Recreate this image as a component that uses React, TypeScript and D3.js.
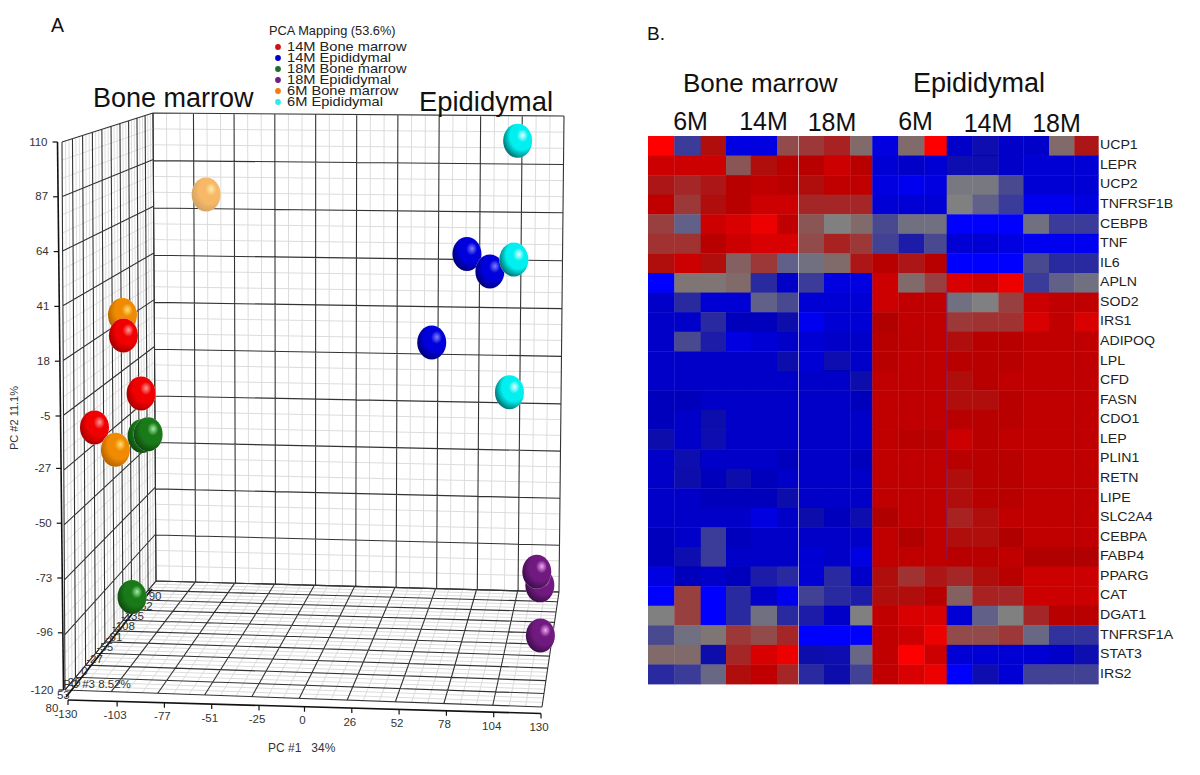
import React from "react";
import * as d3 from "d3";

// ---------- Panel A data ----------
const legendLabels = ["14M Bone marrow", "14M Epididymal", "18M Bone marrow", "18M Epididymal", "6M Bone marrow", "6M Epididymal"];
const legendColors = ["#cc1111", "#0000cc", "#1a6e2a", "#6a1e8a", "#f07d10", "#30e8f0"];
const sphereLight = ["#ff9a9a", "#8080ff", "#a0f0a0", "#f4a8f4", "#ffe070", "#e4ffff"];
const sphereBase = ["#f00000", "#0000dc", "#1a7a1a", "#701a80", "#f08a00", "#00f0f0"];
const sphereDark = ["#8c0000", "#000058", "#0a3c0a", "#2c0838", "#a05800", "#004c4c"];
const sphereGroup = [4, 4, 0, 0, 0, 4, 2, 2, 2, 1, 1, 5, 1, 5, 5, 3, 3, 3];
const spherePc1 = [-91, -116.5, -116, -111, -128, -116, -113, -112, -117, 74, 88, 101, 54, 102, 99, 119, 117, 123];
const spherePc2 = [73, 29, 20, -9, -18, -27.5, -30, -31, -102, 49, 41, 44, 9, 99, -19, -111.5, -105, -119];
const spherePc3 = [-159, -17, -17, -44, 8, 8, -57, -71, -44, -128, -128, -159, -114, -174, -159, -159, -159, -71];
const sphereOpacity = [0.6, 1, 1, 1, 1, 1, 1, 1, 1, 1, 1, 1, 1, 1, 1, 1, 1, 1];
const pc1Ticks = [-130, -103, -77, -51, -25, 0, 26, 52, 78, 104, 130];
const pc2Ticks = [110, 87, 64, 41, 18, -5, -27, -50, -73, -96, -120];
const pc3Ticks = [80, 53, 26, 0, -27, -55, -81, -108, -135, -162, -190];

// ---------- Panel B data ----------
const genes = ["UCP1", "LEPR", "UCP2", "TNFRSF1B", "CEBPB", "TNF", "IL6", "APLN", "SOD2", "IRS1", "ADIPOQ", "LPL", "CFD", "FASN", "CDO1", "LEP", "PLIN1", "RETN", "LIPE", "SLC2A4", "CEBPA", "FABP4", "PPARG", "CAT", "DGAT1", "TNFRSF1A", "STAT3", "IRS2"];
const expression = [
  [10, -4, 6, -9, -9, 2.5, 3.5, 5, 1, -9, 1, 10, -8, -7, -8, -8, 1, 5.5],
  [8.5, 8.5, 8.5, 2, 6, 7.5, 7.5, 8.5, 7.5, -8.5, -8, -8.5, -7, -7, -8, -8.5, -8.5, -8.5],
  [5.5, 4.5, 5.5, 7.5, 8, 7.5, 6, 8, 8, -9, -9.5, -9, -0.5, -0.5, -3, -8.5, -8.5, -8.5],
  [8, 3.5, 6, 7.5, 8.5, 8.5, 4.5, 4.5, 4.5, -8.5, -8.5, -8.5, 0, -2, -4, -9.5, -9.5, -9],
  [3, -2, 8.5, 9, 9.5, 8, 2, 0, 1, -3, -1, -1, -10, -10, -10, -1, -4, -4],
  [4, 4, 7.5, 8.5, 9, 9, 2.5, 5, 3.5, -3.5, -6, -3, -8.5, -8.5, -9, -9.5, -9.5, -9.5],
  [6, 8.5, 6, 1.5, 3.5, -2, -1, 1, 5.5, 7.5, 5.5, 7.5, -10, -10, -10, -3, -5, -5],
  [-10, 0.5, 0.5, 1, -5, -8, -4, -9, -9, 8.5, 1, 3, 9, 8.5, 9.5, -4, -2, -1],
  [-8, -5, -8.5, -8.5, -2, -3, -8.5, -8.5, -8.5, 8.5, 8, 8, -1, 0, 3, 8.5, 8, 8],
  [-8, -8, -5, -7.5, -7.5, -6.5, -9.5, -8.5, -8.5, 7, 8, 8, 3.5, 4, 4, 9, 8, 9],
  [-8, -3, -6, -9, -8.5, -8, -8.5, -8, -8, 7.5, 7.8, 8, 6, 7.5, 7.5, 8, 8, 8],
  [-8, -8, -8, -8, -8, -6.5, -8.5, -7, -8, 7.5, 8, 8, 7.5, 7.5, 7.5, 8, 8, 8],
  [-8, -8, -8, -8, -8, -8, -8, -8, -6.5, 8, 8, 8, 6, 7.5, 8, 8, 8, 8],
  [-7.5, -7.5, -8, -8, -8, -8, -8, -8, -7.5, 8, 8, 8, 6, 6, 7.5, 8, 8, 8],
  [-7.5, -8, -6.5, -8, -8, -8, -8, -8, -8, 8, 8, 8, 7.5, 7.5, 7.5, 8, 8, 8],
  [-6.5, -8, -7, -8, -8, -8, -8, -8, -8, 8, 7.5, 7.5, 8.5, 7.5, 8, 8, 8, 8],
  [-8, -7, -8, -8, -8, -7.5, -8, -8, -7.5, 8, 8, 8, 7.5, 7.5, 7.5, 8, 8, 8],
  [-8, -6.5, -7.5, -6.5, -7.5, -8, -8, -8, -8, 8, 8, 8, 6, 7.5, 7.5, 8, 8, 8],
  [-8, -8, -7.5, -7.5, -7.5, -6.5, -8, -8, -8, 8, 8, 8, 6, 7.5, 7.5, 8, 8, 8],
  [-8, -8, -8, -8, -9, -8, -6.5, -7.5, -7, 7, 8, 8, 5, 6, 8, 8, 8, 8],
  [-7.5, -8, -4, -7.5, -8, -8, -8, -8, -8, 8, 7, 8, 6, 6, 7, 8, 8, 8],
  [-7.5, -7, -4, -8, -8, -8, -8.5, -8, -9, 8, 8, 8, 7.5, 7.5, 8, 7, 7, 7],
  [-9, -7.5, -8, -7.5, -6, -5, -8.5, -5, -8, 6, 4, 5.5, 4.5, 6, 7.5, 8.5, 8.5, 8.5],
  [-10, 3, -10, -5, -8, -9.5, -3.5, -5, -6, 6, 6, 7.5, 1.5, 5, 4.5, 8.5, 8.5, 8.5],
  [0, 3, -10, -5, -1, -5, -6, -8, 0, 8, 9, 9, -8.5, -2, 0, 4.5, 7.5, 7.5],
  [-3, -1, 0.5, 3.5, 2.5, 4.5, -10, -10, -10, 8, 8.5, 9.5, 2.5, 2.5, 3.5, -1.5, -4.5, -4.5],
  [1, 1, -6.5, 4.5, 9, 9.5, -6.5, -7, -1.5, 8, 10, 8.5, -8.5, -8.5, -8.5, -8.5, -8, -7],
  [-5, -4, -1.5, 6, 8, 4.5, -5, -6.5, -3.5, 8, 9, 9.5, -10, -7, -8.5, -3.5, -3.5, -3.5],
];
const colorStops = ["#0000ff", "#0000e0", "#0000c8", "#0808b0", "#1a1aa8", "#2a2aa0", "#3a3a9a", "#4a4a90", "#606088", "#707080", "#808080", "#806a6a", "#8a5555", "#984040", "#a03030", "#a82020", "#b01010", "#b00000", "#c00000", "#d80000", "#ff0000"];
const columnHeaders = ["6M", "14M", "18M", "6M", "14M", "18M"];

// ---------- Geometry ----------
type P = [number, number];
const lerp = (a: number, b: number, t: number) => a + (b - a) * t;
const lerpP = (a: P, b: P, t: number): P => [lerp(a[0], b[0], t), lerp(a[1], b[1], t)];

function homography(p0: P, p1: P, p2: P, p3: P) {
  // (0,0)->p0, (1,0)->p1, (1,1)->p2, (0,1)->p3
  const dx1 = p1[0] - p2[0], dx2 = p3[0] - p2[0], sx = p0[0] - p1[0] + p2[0] - p3[0];
  const dy1 = p1[1] - p2[1], dy2 = p3[1] - p2[1], sy = p0[1] - p1[1] + p2[1] - p3[1];
  const den = dx1 * dy2 - dx2 * dy1;
  const g = (sx * dy2 - dx2 * sy) / den;
  const h = (dx1 * sy - sx * dy1) / den;
  const a = p1[0] - p0[0] + g * p1[0], b = p3[0] - p0[0] + h * p3[0], c = p0[0];
  const d = p1[1] - p0[1] + g * p1[1], e = p3[1] - p0[1] + h * p3[1], f = p0[1];
  return (u: number, v: number): P => {
    const w = g * u + h * v + 1;
    return [(a * u + b * v + c) / w, (d * u + e * v + f) / w];
  };
}

const BTL: P = [153, 113], BTR: P = [564, 116], BBR: P = [559, 592], BBL: P = [156, 581];
const FTL: P = [62, 142], FTR: P = [549, 150], FBR: P = [542, 707], FBL: P = [65, 690];
const backWall = homography(BTL, BTR, BBR, BBL);
const frontPlane = homography(FTL, FTR, FBR, FBL);
const floorFace = homography(BBL, BBR, FBR, FBL);
const leftWall = homography(BTL, FTL, FBL, BBL);

const uScale = d3.scaleLinear().domain([-130, 130]).range([0, 1]);
const vScale = d3.scaleLinear().domain([110, -120]).range([0, 1]);
const sScale = d3.scaleLinear().domain([-190, 80]).range([0, 1]);
const PERSPECTIVE = 1.18;
const depthT = (s: number) => s / (s + PERSPECTIVE * (1 - s));
const project = (pc1: number, pc2: number, pc3: number): P =>
  lerpP(backWall(uScale(pc1), vScale(pc2)), frontPlane(uScale(pc1), vScale(pc2)), depthT(sScale(pc3)));

const lineGen = d3.line();
const DIV = d3.range(0, 31);

type Face = (u: number, v: number) => P;
function faceLines(face: Face) {
  const minor: string[] = [], major: string[] = [];
  DIV.forEach((i) => {
    const k = i / 30;
    const target = i % 3 === 0 ? major : minor;
    target.push(lineGen([face(k, 0), face(k, 1)]) as string);
    target.push(lineGen([face(0, k), face(1, k)]) as string);
  });
  return { minor, major };
}

function Grid({ face }: { face: Face }) {
  const { minor, major } = faceLines(face);
  return (
    <g fill="none">
      <path d={minor.join("")} stroke="#dcdcdc" strokeWidth={1} />
      <path d={major.join("")} stroke="#333" strokeWidth={1.1} />
    </g>
  );
}

const FONT = "'Liberation Sans', Arial, sans-serif";

function PanelA() {
  const yAxisTop: P = [57.5, 142], yAxisBottom: P = [63.5, 690];
  const yAxis = d3.scaleLinear().domain([110, -120]).range([0, 1]);
  const xAxisLeft: P = [68, 700], xAxisRight: P = [541, 713.5];
  const xAxis = d3.scaleLinear().domain([-130, 130]).range([0, 1]);
  const zFront: P = [66, 697], zBack: P = [152, 589];
  const order = d3.range(sphereGroup.length);
  return (
    <g fontFamily={FONT}>
      <Grid face={backWall} />
      <Grid face={leftWall} />
      <Grid face={floorFace} />

      {/* PC2 axis */}
      <path d={lineGen([yAxisTop, yAxisBottom]) as string} stroke="#111" strokeWidth={1.6} fill="none" />
      {pc2Ticks.map((t) => {
        const p = lerpP(yAxisTop, yAxisBottom, yAxis(t));
        return (
          <g key={t}>
            <line x1={p[0] - 5} x2={p[0]} y1={p[1]} y2={p[1]} stroke="#111" strokeWidth={1.2} />
            <text x={p[0] - 10} y={p[1] + 3.5} textAnchor="end" fontSize={11.5} fill="#333">{t}</text>
          </g>
        );
      })}

      {/* PC1 axis */}
      <path d={lineGen([xAxisLeft, xAxisRight]) as string} stroke="#111" strokeWidth={1.6} fill="none" />
      {pc1Ticks.map((t) => {
        const p = lerpP(xAxisLeft, xAxisRight, xAxis(t));
        return (
          <g key={t}>
            <line x1={p[0]} x2={p[0]} y1={p[1]} y2={p[1] + 5} stroke="#111" strokeWidth={1.2} />
            <text x={p[0] - 2} y={p[1] + 17.5} textAnchor="middle" fontSize={11.5} fill="#333">{t}</text>
          </g>
        );
      })}

      {/* PC3 axis */}
      <path d={lineGen([zFront, zBack]) as string} stroke="#111" strokeWidth={1.8} fill="none" />
      {pc3Ticks.map((t) => {
        const s = sScale(t);
        const p = floorFace(0, s);
        return (
          <text key={t} x={p[0] - 6 - 7 * s} y={p[1] + 15 + 3 * s + 4} textAnchor="middle" fontSize={11.5} fill="#333">{t}</text>
        );
      })}
      <text x={63} y={688} fontSize={11.5} fill="#333">PC #3 8.52%</text>
      <text x={268} y={752} fontSize={12} fill="#333" style={{ whiteSpace: "pre" }}>{"PC #1   34%"}</text>
      <text transform="translate(18,418) rotate(-90)" textAnchor="middle" fontSize={11} fill="#333">PC #2 11.1%</text>

      {/* spheres */}
      <defs>
        {legendLabels.map((_, g) => (
          <radialGradient key={g} id={`sphere${g}`} cx="0.62" cy="0.38" r="0.74" fx="0.68" fy="0.34">
            <stop offset="0" stopColor={sphereLight[g]} />
            <stop offset="0.26" stopColor={sphereBase[g]} />
            <stop offset="0.55" stopColor={sphereBase[g]} />
            <stop offset="1" stopColor={sphereDark[g]} />
          </radialGradient>
        ))}
      </defs>
      {order.map((i) => {
        const [cx, cy] = project(spherePc1[i], spherePc2[i], spherePc3[i]);
        return (
          <g key={i}>
            <ellipse cx={cx} cy={cy} rx={14.5} ry={17} fill="#fff" />
            <ellipse cx={cx} cy={cy} rx={14.5} ry={17} fill={`url(#sphere${sphereGroup[i]})`} opacity={sphereOpacity[i]} />
          </g>
        );
      })}

      {/* titles and legend */}
      <text x={51} y={32} fontSize={19.5} fill="#111">A</text>
      <text x={93} y={107} fontSize={27} fill="#111">Bone marrow</text>
      <text x={419} y={111} fontSize={27.4} fill="#111">Epididymal</text>
      <text x={269} y={35} fontSize={12.8} fill="#222">PCA Mapping (53.6%)</text>
      {legendLabels.map((label, i) => {
        const y = 47 + i * 11;
        return (
          <g key={label}>
            <circle cx={278} cy={y} r={2.9} fill={legendColors[i]} />
            <text transform={`translate(287,${y + 4}) scale(1.22,1)`} fontSize={12} fill="#222">{label}</text>
          </g>
        );
      })}
    </g>
  );
}

function PanelB() {
  const colEdges = [648, 674.3, 700.7, 726, 750.7, 777, 798.5, 824, 850.3, 872.3, 898.3, 924.3, 946.7, 972.3, 998.3, 1023.3, 1049, 1074.3, 1098.3];
  const x = d3.scaleLinear().domain(d3.range(19)).range(colEdges);
  const y = d3.scaleLinear().domain([0, genes.length]).range([136, 684]);
  const color = d3.scaleLinear<string>().domain(d3.range(-10, 11)).range(colorStops).clamp(true);
  const headerX = [690.5, 763.5, 832, 915.5, 988, 1056.5];
  const headerY = [129.5, 129.5, 131, 130, 131.5, 131.5];
  return (
    <g fontFamily={FONT}>
      <defs>
        <filter id="soft" filterUnits="userSpaceOnUse" x="640" y="130" width="466" height="560">
          <feGaussianBlur stdDeviation="0.6" />
        </filter>
      </defs>
      <g filter="url(#soft)">
        {expression.map((row, r) =>
          row.map((v, c) => (
            <rect key={`${r}-${c}`} x={x(c)} y={y(r)} width={x(c + 1) - x(c) + 0.4} height={y(r + 1) - y(r) + 0.4} fill={color(v)} />
          ))
        )}
        <line x1={798.5} x2={798.5} y1={136} y2={684} stroke="#fff" strokeOpacity={0.55} strokeWidth={1} />
        <line x1={947} x2={947} y1={290} y2={560} stroke="#5a2aa8" strokeOpacity={0.8} strokeWidth={1} />
      </g>
      {genes.map((g, i) => (
        <text key={g} transform={`translate(1100,${(y(i) + y(i + 1)) / 2 + 3.5}) scale(1.18,1)`} fontSize={12} fill="#222">{g}</text>
      ))}
      <text x={647} y={40} fontSize={19} fill="#111">B.</text>
      <text x={683} y={92} fontSize={26} fill="#111">Bone marrow</text>
      <text x={913} y={92} fontSize={27} fill="#111">Epididymal</text>
      {columnHeaders.map((h, i) => (
        <text key={i} x={headerX[i]} y={headerY[i]} textAnchor="middle" fontSize={25} fill="#111">{h}</text>
      ))}
    </g>
  );
}

export default function App() {
  return (
    <svg width={1200} height={775} viewBox="0 0 1200 775" style={{ position: "absolute", left: 0, top: 0, display: "block", background: "#fff" }}>
      <PanelA />
      <PanelB />
    </svg>
  );
}
